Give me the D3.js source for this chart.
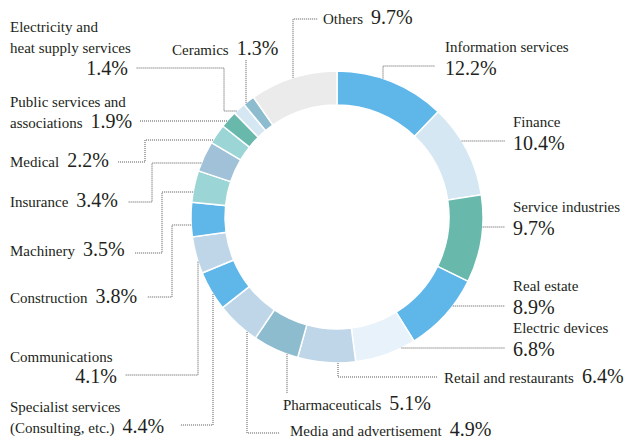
<!DOCTYPE html>
<html>
<head>
<meta charset="utf-8">
<script src="https://cdn.jsdelivr.net/npm/d3@7"></script>
<style>
  body { margin: 0; background: #fff; }
</style>
</head>
<body>
<div id="chart"></div>
<script>
// Share by industry (%), clockwise from 12 o'clock
var categories = [
    "Information services", "Finance", "Service industries", "Real estate",
    "Electric devices", "Retail and restaurants", "Pharmaceuticals",
    "Media and advertisement", "Specialist services\n(Consulting, etc.)",
    "Communications", "Construction", "Machinery", "Insurance", "Medical",
    "Public services and\nassociations", "Electricity and\nheat supply services",
    "Ceramics", "Others"
];
var shares = [12.2, 10.4, 9.7, 8.9, 6.8, 6.4, 5.1, 4.9, 4.4, 4.1, 3.8, 3.5, 3.4, 2.2, 1.9, 1.4, 1.3, 9.7];
var colors = [
    "#5eb6e9", "#d4e7f3", "#68b8ac", "#5eb6e9", "#e7f2fa", "#bfd6e9",
    "#8ebccf", "#bfd6e9", "#5eb6e9", "#bfd6e9", "#5eb6e9", "#9bd5d6",
    "#a0c1d7", "#9bd5d6", "#68b8ac", "#d4e7f3", "#8ebccf", "#ebebeb"
];

// label layout: name position (first baseline), percent placement
// pct: "inline" after last name line, "below" under it, or [x, y, anchor]
var labelLayout = [
    {x: 445, y: 52, pct: "below"},
    {x: 513, y: 127, pct: "below"},
    {x: 513, y: 212, pct: "below"},
    {x: 513, y: 291, pct: "below"},
    {x: 513, y: 333, pct: "below"},
    {x: 444, y: 383, pct: "inline"},
    {x: 283, y: 410, pct: "inline"},
    {x: 290, y: 436, pct: "inline"},
    {x: 10, y: 412, pct: "inline"},
    {x: 10, y: 362, pct: [117, 383, "end"]},
    {x: 10, y: 303, pct: "inline"},
    {x: 10, y: 256, pct: "inline"},
    {x: 10, y: 207, pct: "inline"},
    {x: 10, y: 167, pct: "inline"},
    {x: 10, y: 107, pct: "inline"},
    {x: 10, y: 32, pct: [128, 75, "end"]},
    {x: 172, y: 55, pct: "inline"},
    {x: 323, y: 24, pct: "inline"}
];

// leader routes: [hit mode ("h" = at a y, "v" = at an x), coord, waypoints]
var leaderRoutes = [
    ["v", 383, [[383, 66], [435, 66]]],
    ["h", 141, [[505, 141]]],
    ["h", 227, [[505, 227]]],
    ["h", 306, [[505, 306]]],
    ["h", 348, [[505, 348]]],
    ["v", 338, [[338, 377], [437, 377]]],
    ["v", 287, [[287, 393]]],
    ["v", 247, [[247, 433], [280, 433]]],
    ["v", 213, [[213, 425], [180, 425]]],
    ["v", 198, [[198, 375], [125, 375]]],
    ["h", 225, [[172, 225], [172, 297], [147, 297]]],
    ["h", 192, [[162, 192], [162, 253], [135, 253]]],
    ["h", 163, [[152, 163], [152, 202], [128, 202]]],
    ["h", 140, [[145, 140], [145, 162], [118, 162]]],
    ["h", 121, [[140, 121]]],
    ["h", 111, [[224, 111], [224, 68], [136, 68]]],
    ["v", 246, [[246, 60]]],
    ["v", 293, [[293, 19], [318, 19]]]
];

var width = 631, height = 440;
var cx = 337, cy = 217, outerR = 146, innerR = 112;
var serif = "'Liberation Serif'";

var svg = d3.select("#chart").append("svg")
    .attr("width", width)
    .attr("height", height);

var pie = d3.pie().sort(null).value(function(d) { return d; });
var arcs = pie(shares);
var arc = d3.arc().innerRadius(innerR).outerRadius(outerR);

svg.append("g")
    .attr("transform", "translate(" + cx + "," + cy + ")")
    .selectAll("path")
    .data(arcs)
    .enter().append("path")
    .attr("d", arc)
    .style("fill", function(d, i) { return colors[i]; })
    .style("stroke", "#fff")
    .style("stroke-width", 1.5);

// point where the leader meets the ring, kept inside its slice
function ringPoint(d, mode, c) {
    var cands;
    if (mode === "h") {
        var k = Math.acos(Math.max(-1, Math.min(1, (cy - c) / outerR)));
        cands = [k, 2 * Math.PI - k];
    } else {
        var s = Math.asin(Math.max(-1, Math.min(1, (c - cx) / outerR)));
        cands = [s < 0 ? 2 * Math.PI + s : s, Math.PI - s];
    }
    var a = cands.find(function(t) { return t >= d.startAngle && t <= d.endAngle; });
    if (a === undefined) a = (d.startAngle + d.endAngle) / 2;
    return [cx + outerR * Math.sin(a), cy - outerR * Math.cos(a)];
}

var line = d3.line();
svg.append("g")
    .selectAll("path")
    .data(arcs)
    .enter().append("path")
    .attr("d", function(d, i) {
        var r = leaderRoutes[i];
        return line([ringPoint(d, r[0], r[1])].concat(r[2]));
    })
    .style("fill", "none")
    .style("stroke", "#555")
    .style("stroke-width", 1)
    .style("stroke-dasharray", "1,1");

var labels = svg.append("g");

categories.forEach(function(name, i) {
    var lay = labelLayout[i];
    var lines = name.split("\n");
    var last;
    lines.forEach(function(t, j) {
        last = labels.append("text")
            .attr("x", lay.x)
            .attr("y", lay.y + j * 21)
            .style("font-family", serif)
            .style("font-size", "15px")
            .style("fill", "#231f20")
            .text(t);
    });
    var pctText = shares[i].toFixed(1) + "%";
    var px, py, anchor = "start";
    if (lay.pct === "inline") {
        px = lay.x + last.node().getComputedTextLength() + 8;
        py = lay.y + (lines.length - 1) * 21;
    } else if (lay.pct === "below") {
        px = lay.x;
        py = lay.y + lines.length * 22.5;
    } else {
        px = lay.pct[0]; py = lay.pct[1]; anchor = lay.pct[2];
    }
    labels.append("text")
        .attr("x", px)
        .attr("y", py)
        .attr("text-anchor", anchor)
        .style("font-family", serif)
        .style("font-size", "20px")
        .style("fill", "#231f20")
        .text(pctText);
});
</script>
</body>
</html>
